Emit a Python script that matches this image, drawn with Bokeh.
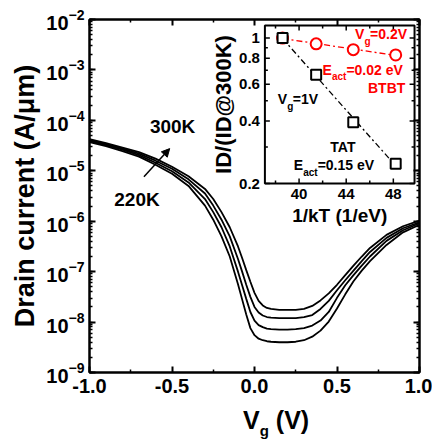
import numpy as np
from bokeh.plotting import figure
from bokeh.layouts import column
from bokeh.models import (Range1d, LogAxis, LinearAxis, Label, Arrow, NormalHead, Div,
                          LogTicker, FixedTicker, NumeralTickFormatter, LogScale,
                          CustomJSTickFormatter)
from bokeh.embed import file_html
from bokeh.resources import INLINE

FONT = "Liberation Sans"

# ---------------- main chart data ----------------
vg = [-1.0, -0.9, -0.8, -0.7, -0.6, -0.5, -0.4, -0.3, -0.25, -0.2, -0.15, -0.1, -0.075,
      -0.05, -0.025, 0.0, 0.025, 0.05, 0.075, 0.1, 0.15, 0.2, 0.25, 0.3, 0.35, 0.4, 0.45,
      0.5, 0.55, 0.6, 0.65, 0.7, 0.8, 0.9, 1.0]
# log10 of drain current (A/um)
log_id_300K = [-4.37, -4.45, -4.54, -4.63, -4.76, -4.92, -5.11, -5.36, -5.56, -5.82, -6.12,
               -6.50, -6.73, -6.97, -7.20, -7.42, -7.58, -7.67, -7.72, -7.74, -7.76, -7.76,
               -7.76, -7.74, -7.68, -7.57, -7.43, -7.26, -7.07, -6.88, -6.70, -6.53, -6.27,
               -6.10, -5.99]
log_id_280K = [-4.39, -4.47, -4.56, -4.66, -4.80, -4.96, -5.17, -5.45, -5.69, -5.97, -6.30,
               -6.75, -7.00, -7.26, -7.50, -7.70, -7.81, -7.87, -7.90, -7.91, -7.92, -7.92,
               -7.92, -7.90, -7.86, -7.74, -7.58, -7.37, -7.17, -6.98, -6.79, -6.61, -6.33,
               -6.14, -6.02]
log_id_260K = [-4.41, -4.49, -4.58, -4.69, -4.84, -5.01, -5.23, -5.56, -5.82, -6.12, -6.50,
               -7.00, -7.27, -7.54, -7.80, -7.97, -8.06, -8.10, -8.13, -8.14, -8.15, -8.15,
               -8.14, -8.12, -8.07, -7.97, -7.80, -7.52, -7.27, -7.07, -6.88, -6.70, -6.39,
               -6.18, -6.04]
log_id_240K = [-4.43, -4.51, -4.61, -4.72, -4.88, -5.06, -5.30, -5.69, -5.97, -6.30, -6.70,
               -7.25, -7.55, -7.85, -8.12, -8.26, -8.33, -8.36, -8.38, -8.39, -8.40, -8.40,
               -8.39, -8.36, -8.29, -8.17, -7.99, -7.73, -7.45, -7.19, -6.98, -6.79, -6.47,
               -6.22, -6.07]
main_xticks = [-1.0, -0.5, 0.0, 0.5, 1.0]
main_xminor = [-0.75, -0.25, 0.25, 0.75]

# ---------------- inset data ----------------
inv_kT = [38.6, 41.45, 44.6, 48.2]
ratio_btbt = [1.0, 0.939, 0.88, 0.83]   # Vg = 0.2 V (red)
ratio_tat = [1.0, 0.667, 0.394, 0.249]  # Vg = 1 V (black)
inset_xticks = [40, 44, 48]
inset_xticklabels = ["40", "44", "48"]
inset_xminor = [38, 42, 46]
inset_yticks = [0.2, 0.4, 0.6, 0.8, 1.0]
inset_yticklabels = ["0.2", "0.4", "0.6", "0.8", "1"]
inset_yminor = [0.3, 0.5, 0.7, 0.9]
IX0, IX1 = 37.1, 49.8      # inset axis limits
IY0, IY1 = 0.2, 1.15

# ---------------- layout (pixels) ----------------
FW, FH = 333, 353                     # main frame size
IN_L, IN_R, IN_T, IN_B = 177, 5, 6, 164   # inset box inside main frame
ppu = (FW - IN_L - IN_R) / (IX1 - IX0)            # inset px per x unit
ppd = (IN_B - IN_T) / np.log10(IY1 / IY0)         # inset px per y decade
ix_range = Range1d(IX0 - IN_L / ppu, IX1 + IN_R / ppu)
iy_range = Range1d(IY0 / 10 ** ((FH - IN_B) / ppd), IY1 * 10 ** (IN_T / ppd))


def style_axis(ax, size="20px"):
    ax.axis_line_width = 2
    ax.major_tick_line_width = 2
    ax.minor_tick_line_width = 1.5
    ax.major_tick_in = 6
    ax.major_tick_out = 0
    ax.minor_tick_in = 3
    ax.minor_tick_out = 0
    ax.major_label_text_font = FONT
    ax.major_label_text_font_style = "bold"
    ax.major_label_text_font_size = size
    ax.major_label_text_color = "black"
    ax.axis_label_text_font = FONT
    ax.axis_label_text_font_style = "bold"
    ax.axis_label_text_color = "black"


def blank_axis(ax):
    style_axis(ax)
    ax.formatter = CustomJSTickFormatter(code="return ''")
    ax.major_label_standoff = 0


p = figure(width=425, height=395, output_backend="svg", toolbar_location=None,
           x_range=Range1d(-1.0, 1.0), y_range=Range1d(1e-9, 1e-2), y_axis_type="log",
           min_border_left=79, min_border_right=13, min_border_top=12, min_border_bottom=30)
p.margin = (7, 0, 0, 7)
p.extra_x_ranges = {"ix": ix_range}
p.extra_y_ranges = {"iy": iy_range}
p.extra_y_scales = {"iy": LogScale()}
p.grid.visible = False
p.outline_line_color = "black"
p.outline_line_width = 2

xt = FixedTicker(ticks=main_xticks, minor_ticks=main_xminor)
p.xaxis.ticker = xt
p.xaxis.formatter = NumeralTickFormatter(format="0.0")
style_axis(p.xaxis[0])
p.xaxis.major_label_standoff = 6
yt = LogTicker(desired_num_ticks=8, num_minor_ticks=10)
p.yaxis.ticker = yt
style_axis(p.yaxis[0])
p.yaxis.major_label_standoff = 5
p.yaxis.axis_label = "Drain current (A/\u03bcm)"
p.yaxis.axis_label_text_font_size = "27px"
p.yaxis.axis_label_standoff = 3

top = LinearAxis(ticker=xt)
blank_axis(top)
p.add_layout(top, "above")
right = LogAxis(ticker=yt)
blank_axis(right)
p.add_layout(right, "right")

for arr in (log_id_300K, log_id_280K, log_id_260K, log_id_240K):
    p.line(vg, 10.0 ** np.array(arr), line_color="black", line_width=1.8)


def lab(x, y, text, size, color="black", xo=0, yo=0, inset=False, align="left",
        baseline="middle", angle=0.0):
    kw = dict(x_range_name="ix", y_range_name="iy") if inset else {}
    p.add_layout(Label(x=x, y=y, text=text, x_offset=xo, y_offset=yo, angle=angle,
                       text_font=FONT, text_font_style="bold", text_font_size=size,
                       text_color=color, text_baseline=baseline, text_align=align, **kw))


lab(-0.634, 10 ** -4.13, "300K", "19px")
lab(-0.85, 10 ** -5.56, "220K", "19px")
p.add_layout(Arrow(x_start=-0.67, y_start=10 ** -5.12, x_end=-0.514, y_end=10 ** -4.56,
                   line_width=1.5, line_color="black",
                   end=NormalHead(size=8, fill_color="black", line_color="black")))

# ---------------- inset ----------------
R = dict(x_range_name="ix", y_range_name="iy")
p.quad(left=[IX0], right=[IX1], bottom=[IY0], top=[IY1], fill_color="white",
       line_color="black", line_width=2, **R)

def ticks_x(vals, L):
    v = list(vals)
    n = len(v)
    p.segment(x0=v, x1=v, y0=[IY0] * n, y1=[IY0 * 10 ** (L / ppd)] * n,
              line_color="black", line_width=1.5, **R)
    p.segment(x0=v, x1=v, y0=[IY1] * n, y1=[IY1 / 10 ** (L / ppd)] * n,
              line_color="black", line_width=1.5, **R)

def ticks_y(vals, L):
    v = list(vals)
    n = len(v)
    p.segment(x0=[IX0] * n, x1=[IX0 + L / ppu] * n, y0=v, y1=v,
              line_color="black", line_width=1.5, **R)
    p.segment(x0=[IX1] * n, x1=[IX1 - L / ppu] * n, y0=v, y1=v,
              line_color="black", line_width=1.5, **R)

ticks_x(inset_xticks, 5)
ticks_x(inset_xminor, 3)
ticks_y(inset_yticks, 5)
ticks_y(inset_yminor, 3)

for t, s in zip(inset_xticks, inset_xticklabels):
    lab(t, IY0, s, "15px", yo=-5, inset=True, align="center", baseline="top")
for t, s in zip(inset_yticks, inset_yticklabels):
    lab(IX0, t, s, "15px", xo=-5, inset=True, align="right")

xs = np.array(inv_kT)
for ratio, color in ((ratio_btbt, "red"), (ratio_tat, "black")):
    k, b = np.polyfit(xs, np.log10(ratio), 1)
    ends = np.array([xs[0], xs[-1]])
    p.line(ends, 10 ** (b + k * ends), line_color=color, line_width=1.3,
           line_dash="6 3 2 3", **R)
p.scatter(inv_kT, ratio_btbt, marker="circle", size=11, fill_color="white",
          line_color="red", line_width=2, **R)
p.scatter(inv_kT, ratio_tat, marker="square", size=10, fill_color="white",
          line_color="black", line_width=2, **R)

# inset axis titles (positioned in pixels relative to inset box)
lab(IX0, (IY0 * IY1) ** 0.5, "ID/(ID@300K)", "22px", xo=-29, inset=True, align="center",
    baseline="bottom", angle=np.pi / 2)
lab((IX0 + IX1) / 2, IY0, "1/kT (1/eV)", "19px", xo=0, yo=-21, inset=True,
    align="center", baseline="top")

lab(44.75, 1.041, "V", "14px", "red", inset=True)
lab(44.75, 1.041, "g", "10px", "red", xo=9.5, yo=-7, inset=True)
lab(44.75, 1.041, "=0.2V", "14px", "red", xo=15, inset=True)
lab(41.98, 0.706, "E", "14px", "red", inset=True)
lab(41.98, 0.706, "act", "10px", "red", xo=9.5, yo=-7, inset=True)
lab(41.98, 0.706, "=0.02 eV", "14px", "red", xo=24, inset=True)
lab(45.85, 0.578, "BTBT", "14px", "red", inset=True)
lab(38.19, 0.507, "V", "14px", inset=True)
lab(38.19, 0.507, "g", "10px", xo=9.5, yo=-7, inset=True)
lab(38.19, 0.507, "=1V", "14px", xo=15, inset=True)
lab(42.65, 0.3012, "TAT", "14px", inset=True)
lab(39.54, 0.2442, "E", "14px", inset=True)
lab(39.54, 0.2442, "act", "10px", xo=9.5, yo=-7, inset=True)
lab(39.54, 0.2442, "=0.15 eV", "14px", xo=24, inset=True)

# ---------------- x axis title: V_g (V) ----------------
xtitle = Div(text=('<div style="padding-left:238px;font-family:\'Liberation Sans\';'
                   'font-weight:bold;font-size:25px;line-height:26px;white-space:nowrap;'
                   'color:black;">V<span style="font-size:15px;position:relative;top:7px;">'
                   'g</span> (V)</div>'),
             width=432, height=30, styles={"overflow": "visible"})

layout = column(p, xtitle)
open("out.html", "w").write(file_html(layout, INLINE))
